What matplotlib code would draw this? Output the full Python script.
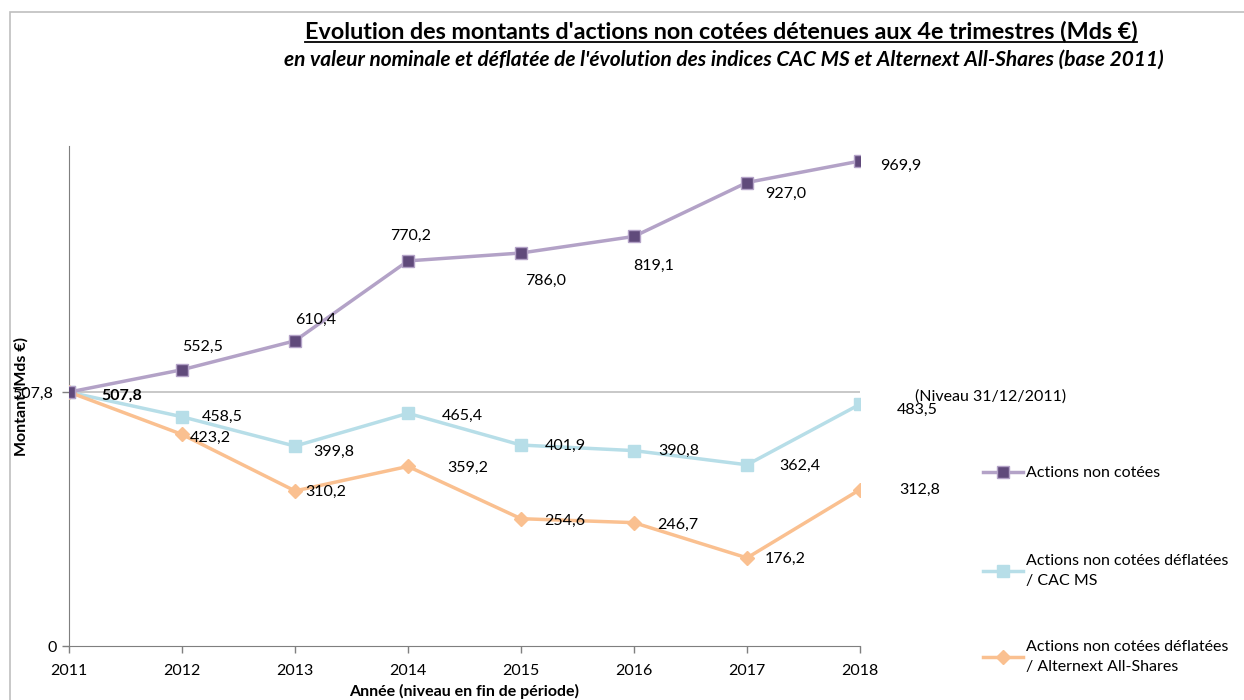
import matplotlib.pyplot as plt
from matplotlib.lines import Line2D
from matplotlib.patches import Rectangle

years = [2011, 2012, 2013, 2014, 2015, 2016, 2017, 2018]
nominal = [507.8, 552.5, 610.4, 770.2, 786.0, 819.1, 927.0, 969.9]
defl_cac = [507.8, 458.5, 399.8, 465.4, 401.9, 390.8, 362.4, 483.5]
defl_alt = [507.8, 423.2, 310.2, 359.2, 254.6, 246.7, 176.2, 312.8]
labels = ['Actions non cotées',
          'Actions non cotées déflatées\n/ CAC MS',
          'Actions non cotées déflatées\n/ Alternext All-Shares']
base_level = 507.8

# label centre offsets from each point, in pixels (dx right, dy down)
off_nominal = [(-36, 2), (21, -23), (21, -21), (3, -25), (25, 28), (20, 29), (39, 11), (41, 5)]
off_cac = [(53, 4), (40, 0), (39, 6), (54, 3), (44, 1), (45, 0), (53, 1), (57, 6)]
off_alt = [None, (28, 3), (31, 1), (60, 1), (44, 2), (44, 2), (38, 1), (60, 0)]

plt.rcParams['font.family'] = ['Lato', 'DejaVu Sans']
FS = 11.5
PT = 0.72  # points per pixel at 100 dpi

fig = plt.figure(figsize=(12.44, 7), dpi=100)
ax = fig.add_axes([69 / 1244, 1 - 646 / 700, (860 - 69) / 1244, 500 / 700])

C_NOM_LINE = '#B3A2C7'
C_NOM_MARK = '#604A7B'
C_CAC = '#B7DEE8'
C_ALT = '#FAC090'

ax.axhline(base_level, color='#BFBFBF', lw=1.2, zorder=1)

l1, = ax.plot(years, nominal, color=C_NOM_LINE, lw=2.5, marker='s', ms=8,
              mfc=C_NOM_MARK, mec=C_NOM_LINE, mew=1, zorder=4)
l2, = ax.plot(years, defl_cac, color=C_CAC, lw=2.5, marker='s', ms=9,
              mfc=C_CAC, mec=C_CAC, zorder=3)
l3, = ax.plot(years, defl_alt, color=C_ALT, lw=2.5, marker='D', ms=7,
              mfc=C_ALT, mec=C_ALT, zorder=3)

ax.set_xlim(2011, 2018)
ax.set_ylim(0, 1000)
ax.set_xticks(years)
ax.set_xticklabels([str(y) for y in years], fontsize=FS)
ax.set_yticks([0, base_level])
ax.set_yticklabels(['0', ''], fontsize=FS)
ax.tick_params(axis='both', color='#7F7F7F', length=5, width=1)
ax.tick_params(axis='x', pad=8)
for s in ['top', 'right']:
    ax.spines[s].set_visible(False)
for s in ['left', 'bottom']:
    ax.spines[s].set_color('#7F7F7F')


def fmt(v):
    return f'{v:.1f}'.replace('.', ',')


def put(x, v, off, bold=False):
    ax.annotate(fmt(v), (x, v), xytext=(off[0] * PT, -off[1] * PT),
                textcoords='offset points', ha='center', va='center',
                fontsize=FS, fontweight='bold' if bold else 'normal',
                annotation_clip=False, zorder=6)


for x, v, o in zip(years, nominal, off_nominal):
    put(x, v, o)
for i, (x, v, o) in enumerate(zip(years, defl_cac, off_cac)):
    put(x, v, o, bold=(i == 0))
for x, v, o in zip(years, defl_alt, off_alt):
    if o is not None:
        put(x, v, o)

ax.annotate('(Niveau 31/12/2011)', (2018, base_level), xytext=(55 * PT, -4 * PT),
            textcoords='offset points', ha='left', va='center', fontsize=FS,
            annotation_clip=False)

ax.set_xlabel('Année (niveau en fin de période)', fontsize=FS, fontweight='bold',
              labelpad=4)
ax.set_ylabel('Montant (Mds €)', fontsize=FS, fontweight='bold', labelpad=14)

leg_y = [473, 571, 657]
for h, lab, y in zip([l1, l2, l3], labels, leg_y):
    lg = fig.legend([h], [lab], loc='center left',
                    bbox_to_anchor=(983 / 1244, 1 - y / 700), frameon=False,
                    fontsize=FS, handlelength=2.5, handletextpad=0.2,
                    borderaxespad=0, borderpad=0)
    for t in lg.get_texts():
        t.set_linespacing(1.6)

title = fig.text(721 / 1244, 1 - 32 / 700,
                 "Evolution des montants d'actions non cotées détenues aux 4e trimestres (Mds €)",
                 ha='center', va='center', fontsize=16.8, fontweight='bold')
fig.text(724 / 1244, 1 - 60 / 700,
         "en valeur nominale et déflatée de l'évolution des indices CAC MS et Alternext All-Shares (base 2011)",
         ha='center', va='center', fontsize=15, fontweight='bold', style='italic')

# underline for the title
fig.canvas.draw()
bb = title.get_window_extent().transformed(fig.transFigure.inverted())
fig.add_artist(Line2D([bb.x0, bb.x1], [bb.y0 + 0.001, bb.y0 + 0.001],
                      color='black', lw=1.3, transform=fig.transFigure))

fig.add_artist(Rectangle((10 / 1244, -0.01), 1.02, 1 - 12 / 700 + 0.01,
                         transform=fig.transFigure, fill=False,
                         edgecolor='#BFBFBF', lw=1.2))

fig.savefig('out.png', dpi=100)
